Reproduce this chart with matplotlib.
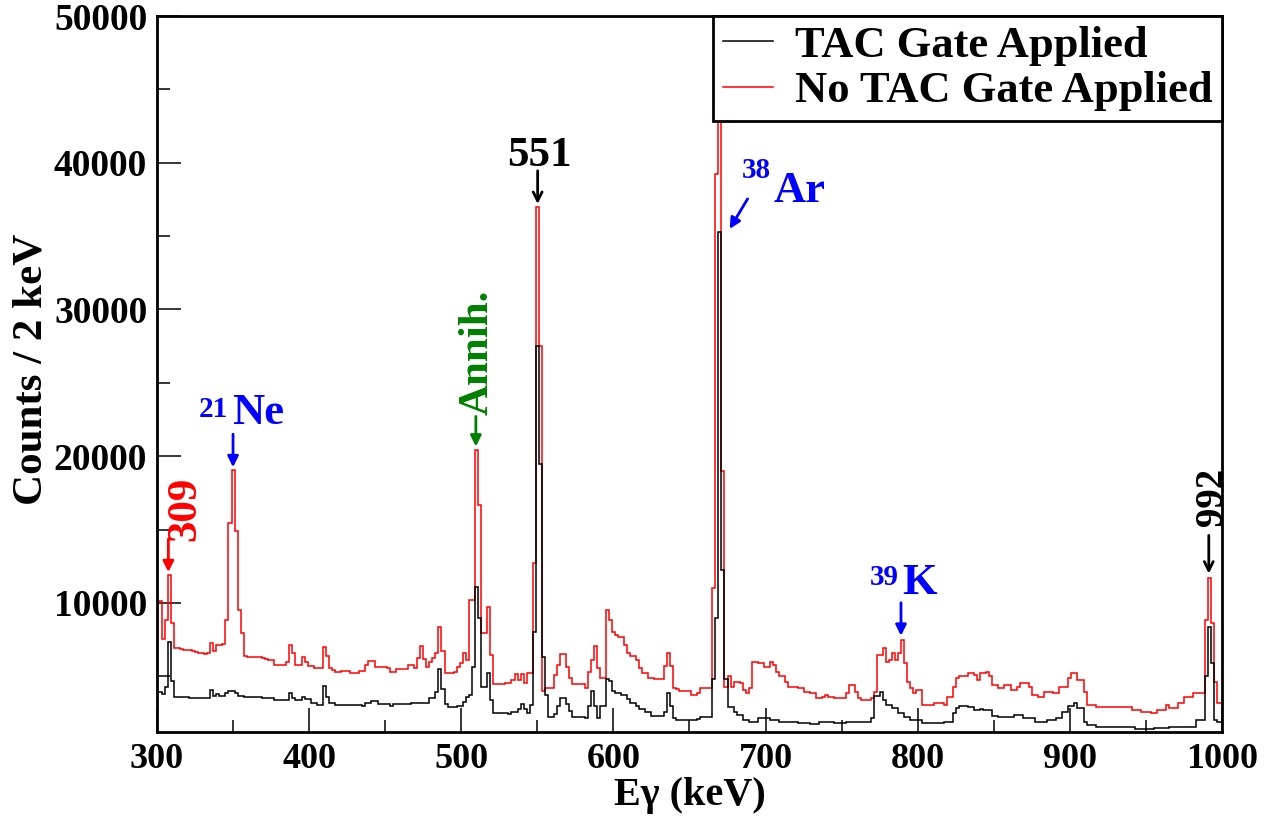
import numpy as np
import matplotlib
matplotlib.use("Agg")
import matplotlib.pyplot as plt
from matplotlib.ticker import MultipleLocator

# Gamma-ray energy binning (keV); bins are 2 keV wide with odd-valued edges
E_MIN, E_MAX, BIN_KEV = 300, 1000, 2
edges = np.arange(299, 1003, BIN_KEV)

# Counts per 2 keV bin, TAC gate applied
# first value: 299-301 keV, then one row = 25 bins (50 keV) starting at 301 keV
tac_gated = [
    3950,
    3950, 3800, 4250, 7350, 4700, 3600, 3600, 3600, 3600, 3600, 3550, 3550, 3550, 3550, 3550, 3550, 3550, 4050, 3650, 3800, 3650, 3650, 3850, 4000, 4000,
    3850, 3650, 3650, 3600, 3600, 3600, 3600, 3600, 3600, 3550, 3550, 3550, 3550, 3400, 3400, 3400, 3400, 3400, 3850, 3550, 3400, 3400, 3600, 3450, 3450,
    3150, 3150, 3050, 3050, 4350, 3600, 3150, 3150, 3050, 3050, 3040, 3040, 3040, 3040, 3040, 3040, 3040, 2970, 3150, 3150, 3310, 3310, 3100, 3100, 3100,
    3100, 2970, 3100, 3100, 3100, 3100, 3100, 3100, 3200, 3200, 3150, 3150, 3150, 3150, 3490, 3490, 3950, 5480, 4100, 3100, 2880, 2880, 2880, 2970, 2970,
    3260, 3600, 3720, 5665, 11060, 9000, 4270, 4270, 5210, 3380, 2520, 2520, 2520, 2520, 2475, 2450, 2590, 2590, 2750, 3100, 2750, 2475, 3040, 8000, 27500,
    19500, 6300, 3700, 2200, 2200, 2450, 2950, 3500, 3500, 3100, 2600, 2200, 2200, 2200, 2200, 2150, 2950, 4000, 2950, 2150, 2950, 2950, 4800, 4650, 4000,
    3850, 3850, 3750, 3750, 3450, 3200, 3200, 2950, 2800, 2800, 2550, 2550, 2300, 2300, 2300, 2300, 2550, 3850, 2950, 2150, 2050, 2050, 2050, 2050, 2050,
    2050, 2050, 2100, 2245, 2245, 2245, 2245, 4800, 9000, 35300, 12220, 4800, 2930, 2930, 2590, 2360, 2360, 2020, 2020, 1905, 1905, 1905, 2135, 2135, 2135,
    2135, 1990, 1990, 1990, 1905, 1905, 1905, 1905, 1905, 1905, 1840, 1840, 1840, 1840, 1750, 1750, 1750, 1905, 1905, 1905, 1905, 1905, 1840, 1840, 1840,
    1840, 1905, 1905, 1905, 1905, 1905, 1905, 1905, 1905, 2135, 3680, 3680, 3960, 3390, 3050, 3050, 2820, 2820, 2480, 2480, 2245, 2245, 2020, 2020, 2020,
    2020, 1790, 1790, 1790, 1790, 1790, 1790, 1790, 1905, 1905, 1905, 2480, 2820, 2980, 2980, 2980, 2900, 2900, 2670, 2670, 2760, 2710, 2710, 2710, 2300,
    2300, 2200, 2200, 2200, 2200, 2200, 2360, 2360, 2360, 2135, 2135, 2135, 2135, 1905, 1905, 1905, 1905, 2020, 2020, 2020, 2135, 2135, 2590, 2590, 2980,
    2980, 3165, 2820, 2820, 1905, 1680, 1680, 1680, 1520, 1520, 1520, 1520, 1520, 1520, 1520, 1520, 1520, 1520, 1520, 1520, 1520, 1425, 1425, 1425, 1425,
    1425, 1425, 1470, 1470, 1470, 1470, 1470, 1560, 1560, 1560, 1560, 1560, 1560, 1560, 1560, 1560, 2020, 2020, 2020, 4985, 8390, 5890, 2000, 1900, 1900,
]

# Counts per 2 keV bin, no TAC gate (same layout)
no_tac_gate = [
    10100,
    10100, 7550, 8850, 11900, 8600, 6950, 6900, 6850, 6800, 6800, 6800, 6700, 6650, 6600, 6600, 6550, 6600, 7250, 6750, 7150, 7150, 7200, 8850, 15450, 19050,
    14900, 9500, 7950, 6400, 6300, 6300, 6300, 6300, 6300, 6250, 6200, 6100, 6100, 5800, 5800, 5800, 5800, 6000, 7100, 6600, 5800, 5800, 6300, 6000, 5700,
    5700, 5550, 5550, 5550, 7000, 6350, 5550, 5400, 5300, 5300, 5390, 5390, 5390, 5210, 5210, 5210, 5390, 5390, 5780, 6050, 6050, 5665, 5665, 5665, 5665,
    5550, 5320, 5320, 5480, 5480, 5480, 5480, 5780, 5780, 5550, 6235, 7030, 6160, 5665, 6000, 6235, 6580, 8390, 6690, 5250, 5250, 5250, 5320, 5665, 5890,
    6620, 6120, 10215, 10215, 20410, 16640, 7980, 7980, 9715, 6460, 4480, 4480, 4480, 4480, 4570, 4570, 4750, 5160, 4750, 5160, 4520, 5210, 5210, 12720, 37000,
    27500, 4000, 4200, 4200, 4200, 5100, 5800, 6500, 6500, 5600, 4900, 4500, 4500, 4500, 4500, 4230, 5300, 6100, 7050, 5550, 4900, 4900, 9500, 8850, 8050,
    7800, 7700, 7700, 7150, 6600, 6350, 6350, 6100, 5550, 5200, 5200, 4900, 4900, 4800, 4800, 4800, 5700, 6600, 5700, 4200, 4100, 4000, 4000, 4000, 4000,
    3750, 3750, 3850, 4185, 4185, 4185, 4185, 11000, 39250, 65000, 19000, 4300, 4985, 4300, 4640, 4640, 4530, 4070, 3845, 4185, 6000, 6000, 5890, 5890, 5665,
    5665, 6000, 5780, 5320, 4985, 4985, 4640, 4300, 4300, 4300, 4185, 4185, 3960, 3960, 3845, 3845, 3505, 3505, 3620, 3730, 3620, 3620, 3505, 3505, 3505,
    3505, 3845, 4410, 4410, 3960, 3505, 3390, 3390, 3390, 3505, 3960, 6460, 6460, 6920, 6000, 6115, 6575, 6115, 6575, 7480, 5890, 4640, 4185, 3845, 4070,
    4070, 3050, 3050, 3050, 3050, 3165, 3165, 3165, 3050, 3620, 3620, 4300, 4870, 4985, 4985, 4985, 5210, 5210, 5100, 4755, 5210, 5210, 5320, 4985, 4410,
    4410, 4185, 4185, 4410, 4410, 4070, 4070, 4300, 4570, 4570, 4570, 4300, 3730, 3730, 3620, 3620, 3960, 3960, 3960, 3850, 3850, 4300, 4300, 4300, 4870,
    5210, 5210, 4755, 4755, 3960, 3050, 3050, 3050, 2935, 2935, 2935, 2935, 2935, 2900, 2900, 2900, 2935, 2935, 2935, 2935, 2705, 2705, 2705, 2590, 2590,
    2590, 2480, 2480, 2700, 2700, 2700, 3050, 2820, 2820, 2820, 3165, 3165, 3610, 3610, 3610, 3870, 3870, 3870, 3870, 8850, 11700, 8620, 4640, 3165, 3165,
]

series_labels = ["TAC Gate Applied", "No TAC Gate Applied"]
series_colors = ["black", "red"]

plt.rcParams["font.family"] = ["Liberation Serif", "DejaVu Serif"]
plt.rcParams["font.weight"] = "bold"

fig = plt.figure(figsize=(12.74, 8.17), dpi=100)
ax = fig.add_axes([0.1232, 0.104, 0.9592 - 0.1232, 0.9804 - 0.104])

gated = np.asarray(tac_gated, dtype=float)
ungated = np.asarray(no_tac_gate, dtype=float)

h_red = ax.stairs(ungated, edges, baseline=None, color=series_colors[1], lw=1.1,
                  label=series_labels[1], zorder=2)
h_blk = ax.stairs(gated, edges, baseline=None, color=series_colors[0], lw=1.1,
                  label=series_labels[0], zorder=3)

ax.set_xlim(E_MIN, E_MAX)
ax.set_ylim(1200, 50000)

ax.xaxis.set_major_locator(MultipleLocator(100))
ax.xaxis.set_minor_locator(MultipleLocator(50))
ax.yaxis.set_major_locator(MultipleLocator(10000))
ax.yaxis.set_minor_locator(MultipleLocator(5000))
ax.tick_params(which="both", direction="in", top=False, right=False, width=1.1)
ax.tick_params(which="major", length=17)
ax.tick_params(axis="x", which="major", pad=8, labelsize=26)
ax.tick_params(axis="y", which="major", pad=7, labelsize=27)
ax.tick_params(which="minor", length=9)
for lbl in ax.get_xticklabels() + ax.get_yticklabels():
    lbl.set_fontweight("bold")
for sp in ax.spines.values():
    sp.set_linewidth(2.0)

ax.set_xlabel("E\u03b3 (keV)", fontsize=29, fontweight="bold")
ax.xaxis.set_label_coords(0.5005, -0.0625)
ax.set_ylabel("Counts / 2 keV", fontsize=31, fontweight="bold")
ax.yaxis.set_label_coords(-0.1, 0.506)

leg = ax.legend(handles=[h_blk, h_red], loc="upper right",
                frameon=True, fancybox=False, borderaxespad=0.0,
                handlelength=1.12, handletextpad=0.5, borderpad=0.22,
                labelspacing=0.12, prop={"weight": "bold", "size": 32})
leg.get_frame().set_edgecolor("black")
leg.get_frame().set_linewidth(2.0)
leg.get_frame().set_alpha(1.0)


def bin_of(e):
    return int((e - edges[0]) // BIN_KEV)


def arrow(tail, tip, color, style="-|>"):
    ax.annotate("", xy=tip, xytext=tail,
                arrowprops=dict(arrowstyle=style, color=color, lw=2.0,
                                mutation_scale=16, shrinkA=0, shrinkB=0))


# 309 keV
e = 307.5
top = ungated[bin_of(e)]
arrow((e, top + 2450), (e, top + 200), "red")
ax.text(318.4, top + 4530, "309", color="red", rotation=90, fontsize=31,
        fontweight="bold", ha="center", va="center")

# 21Ne
e = 350.0
top = ungated[bin_of(e)]
arrow((e, top + 2450), (e, top + 200), "blue")
ax.text(337.4, top + 4140, "21", color="blue", fontsize=21, fontweight="bold",
        ha="center", va="center")
ax.text(366.3, top + 3870, "Ne", color="blue", fontsize=32, fontweight="bold",
        ha="center", va="center")

# Annihilation
e = 509.6
top = ungated[bin_of(e)]
arrow((e, top + 2300), (e, top + 250), "green")
ax.text(510.9, top + 6680, "Annih.", color="green", rotation=90, fontsize=31,
        fontweight="bold", ha="center", va="center")

# 551 keV
e = 550.2
top = ungated[bin_of(e)]
arrow((e, top + 2450), (e, top + 190), "black", style="->")
ax.text(551.5, top + 3470, "551", color="black", fontsize=31,
        fontweight="bold", ha="center", va="center")

# 38Ar
arrow((688.2, 37540), (676.4, 35490), "blue")
ax.text(694.1, 39450, "38", color="blue", fontsize=21, fontweight="bold",
        ha="center", va="center")
ax.text(722.4, 38080, "Ar", color="blue", fontsize=32, fontweight="bold",
        ha="center", va="center")

# 39K
e = 789.0
top = ungated[bin_of(e)]
arrow((e, top + 2530), (e, top + 280), "blue")
ax.text(778.2, top + 4240, "39", color="blue", fontsize=21, fontweight="bold",
        ha="center", va="center")
ax.text(801.2, top + 3900, "K", color="blue", fontsize=32, fontweight="bold",
        ha="center", va="center")

# 992 keV
e = 991.3
top = ungated[bin_of(e)]
arrow((e, top + 2900), (e, top + 300), "black", style="->")
ax.text(993.5, top + 5550, "992", color="black", rotation=90, fontsize=28,
        fontweight="bold", ha="center", va="center")

fig.savefig("out.png", dpi=100)
